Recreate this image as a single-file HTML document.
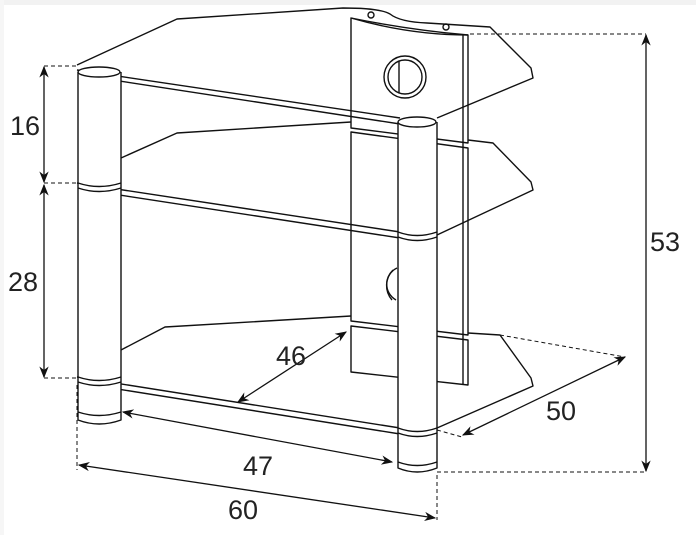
<!DOCTYPE html>
<html><head><meta charset="utf-8"><style>
html,body{margin:0;padding:0;background:#fff;width:696px;height:535px;overflow:hidden}
svg{display:block}
text{font-family:"Liberation Sans Narrow","Liberation Sans",sans-serif;font-size:27px;fill:#222}
</style></head><body>
<svg width="696" height="535" viewBox="0 0 696 535" xmlns="http://www.w3.org/2000/svg">
<defs>
<marker id="a" viewBox="0 0 10 10" refX="9" refY="5" markerWidth="9" markerHeight="9" orient="auto-start-reverse"><path d="M0,1 L10,5 L0,9 L3,5 Z" fill="#111"/></marker>
</defs>
<rect x="0" y="0" width="696" height="5" fill="#f2f2f2"/>
<rect x="0" y="0" width="4" height="535" fill="#f6f6f6"/>
<g fill="none" stroke="#111" stroke-width="1.4" stroke-linejoin="round">
<!-- back panels -->
<path d="M351,18 Q410,30 468,35 L468,143 L351,128 Z" fill="#fff"/>
<path d="M351,132 L468,148 L468,335 L351,321 Z" fill="#fff"/>
<path d="M351,326 L468,340 L468,385 L351,372 Z" fill="#fff"/>
<line x1="463" y1="35" x2="463" y2="385"/>
<circle cx="405" cy="77" r="21"/><circle cx="405" cy="77" r="17"/>
<path d="M399,61 L399,93"/>
<path d="M393,270 A22,22 0 0 0 392,300"/><path d="M397,268 A18,18 0 0 0 396,300"/>
<!-- top shelf -->
<path d="M77,65 L177,19 L343,8 Q380,8 390,14 Q400,22 427,23 L490,27 L531,68 L533,78 L437,118"/>
<path d="M77,70 L400,118 M80,75 L400,124"/>
<path d="M351,18 Q410,35 468,35"/>
<circle cx="371" cy="15" r="3"/><circle cx="446" cy="27" r="3"/>
<!-- middle shelf -->
<path d="M121,158 L177,133 L351,122"/>
<path d="M468,140 L493,143 L531,182 L533,190 L437,235"/>
<path d="M77,183 L400,232 M80,189 L400,238"/>
<!-- bottom shelf -->
<path d="M121,350 L165,327 L351,316"/>
<path d="M468,333 L500,335 L531,378 L533,386 L437,428"/>
<path d="M77,377 L400,428 M80,383 L400,434"/>
<!-- left pillar -->
<path d="M78,72 L78,420 Q99,428 121,420 L121,72" fill="#fff"/>
<ellipse cx="99" cy="72" rx="21" ry="5" fill="#fff"/>
<path d="M78,183 Q99,190 121,183 M78,188 Q99,195 121,188"/>
<path d="M78,377 Q99,384 121,377 M78,382 Q99,389 121,382 M78,412 Q99,419 121,412"/>
<!-- right pillar -->
<path d="M398,122 L398,468 Q417,476 437,468 L437,122" fill="#fff"/>
<ellipse cx="417" cy="122" rx="19" ry="5" fill="#fff"/>
<path d="M398,232 Q417,239 437,232 M398,237 Q417,244 437,237"/>
<path d="M398,428 Q417,435 437,428 M398,433 Q417,440 437,433 M398,462 Q417,469 437,462"/>
</g>
<!-- dimension dashed -->
<g fill="none" stroke="#111" stroke-width="1" stroke-dasharray="4,3">
<path d="M44,66 L77,66 M44,183 L77,183 M44,378 L77,378"/>
<path d="M470,34 L646,34 M437,472 L646,472"/>
<path d="M77,385 L77,470 M437,475 L437,520"/>
<path d="M500,335 L625,357 M437,430 L462,437"/>
</g>
<g fill="none" stroke="#111" stroke-width="1.3">
<line x1="44" y1="67" x2="44" y2="182" marker-start="url(#a)" marker-end="url(#a)"/>
<line x1="44" y1="185" x2="44" y2="377" marker-start="url(#a)" marker-end="url(#a)"/>
<line x1="646" y1="35" x2="646" y2="471" marker-start="url(#a)" marker-end="url(#a)"/>
<line x1="238" y1="402" x2="346" y2="332" marker-start="url(#a)" marker-end="url(#a)"/>
<line x1="463" y1="435" x2="625" y2="357" marker-start="url(#a)" marker-end="url(#a)"/>
<line x1="123" y1="412" x2="392" y2="462" marker-start="url(#a)" marker-end="url(#a)"/>
<line x1="79" y1="465" x2="435" y2="518" marker-start="url(#a)" marker-end="url(#a)"/>
</g>
<text x="10" y="135">16</text>
<text x="8" y="291">28</text>
<text x="650" y="251">53</text>
<text x="276" y="365">46</text>
<text x="546" y="420">50</text>
<text x="243" y="475">47</text>
<text x="228" y="519">60</text>
</svg>
</body></html>
